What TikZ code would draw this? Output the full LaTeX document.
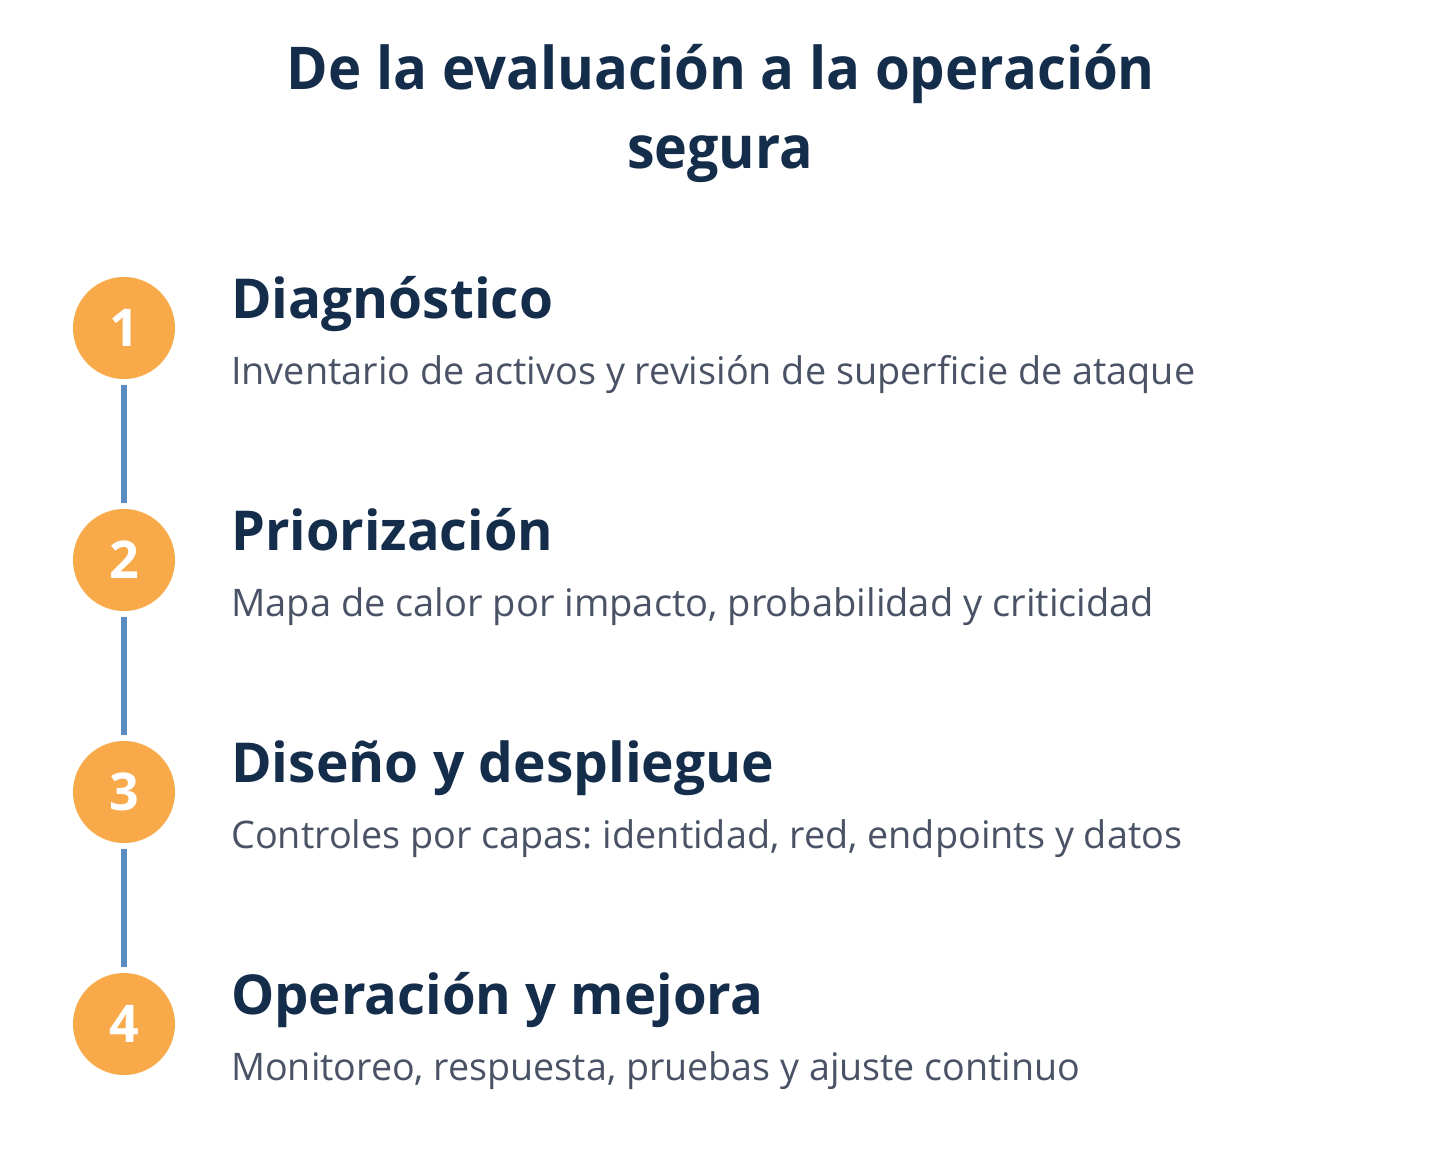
\documentclass[tikz,border=0pt]{standalone}
\usepackage{fontspec}
\setmainfont{Open Sans}
\usepackage{graphicx}
\frenchspacing
\definecolor{navy}{HTML}{142D4B}
\definecolor{descgray}{HTML}{4A5366}
\definecolor{stepor}{HTML}{F8AA4B}
\definecolor{linkblue}{HTML}{5B8DC3}
\tikzset{
  stepcircle/.style={circle, fill=stepor, minimum size=102pt, inner sep=0pt, text=white, font=\fontsize{52}{52}\selectfont\bfseries},
  headtext/.style={anchor=base west, inner sep=0pt, text=navy},
  desctext/.style={anchor=base west, inner sep=0pt, text=descgray},
  titletext/.style={anchor=base, inner sep=0pt, text=navy},
  link/.style={draw=linkblue, line width=6pt, shorten <=6pt, shorten >=6pt},
}
\newcommand{\myhd}[2]{\resizebox{#1}{\height}{\fontsize{55}{55}\selectfont\bfseries #2}}
\newcommand{\myds}[2]{\resizebox{#1}{\height}{\fontsize{38}{38}\selectfont #2}}
\newcommand{\mytt}[2]{\resizebox{#1}{\height}{\fontsize{59}{59}\selectfont\bfseries #2}}
\begin{document}
\begin{tikzpicture}[x=1pt,y=-1pt]
\useasboundingbox (0,0) rectangle (1440,1172);
\fill[white] (0,0) rectangle (1440,1172);
% title
\node[titletext] (t1) at (721,89) {\mytt{868pt}{De la evaluación a la operación}};
\node[titletext] (t2) at (720,168) {\mytt{186pt}{segura}};
% circles
\node[stepcircle] (c1) at (124,328) {1};
\node[stepcircle] (c2) at (124,560) {2};
\node[stepcircle] (c3) at (124,792) {3};
\node[stepcircle] (c4) at (124,1024) {4};
\draw[link] (c1.south) -- (c2.north);
\draw[link] (c2.south) -- (c3.north);
\draw[link] (c3.south) -- (c4.north);
% headings
\node[headtext] (h1) at (231,318) {\myhd{322pt}{Diagnóstico}};
\node[headtext] (h2) at (231,550) {\myhd{322pt}{Priorización}};
\node[headtext] (h3) at (231,782) {\myhd{543pt}{Diseño y despliegue}};
\node[headtext] (h4) at (231,1014) {\myhd{532pt}{Operación y mejora}};
% descriptions
\node[desctext] (d1) at (231,384) {\myds{964pt}{Inventario de activos y revisión de superficie de ataque}};
\node[desctext] (d2) at (231,616) {\myds{923pt}{Mapa de calor por impacto, probabilidad y criticidad}};
\node[desctext] (d3) at (231,848) {\myds{951pt}{Controles por capas: identidad, red, endpoints y datos}};
\node[desctext] (d4) at (231,1080) {\myds{849pt}{Monitoreo, respuesta, pruebas y ajuste continuo}};
\end{tikzpicture}
\end{document}
